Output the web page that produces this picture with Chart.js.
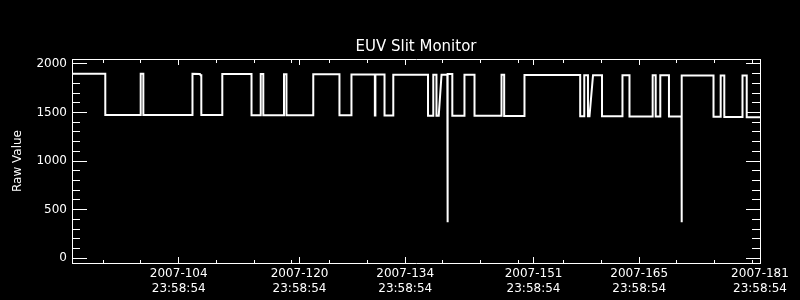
<!DOCTYPE html>
<html>
<head>
<meta charset="utf-8">
<title>EUV Slit Monitor</title>
<script src="https://cdn.jsdelivr.net/npm/chart.js@4.4.0/dist/chart.umd.min.js"></script>
<style>
  html, body { margin: 0; padding: 0; background: #000; }
  #chart { display: block; }
</style>
</head>
<body>
<canvas id="chart" width="800" height="300"></canvas>
<script>
// time axis is day-of-year 2007 (fractional), values are raw counts
const times = [
  90.86, 95.27, 95.27, 99.96, 99.96, 100.31, 100.31, 106.82, 106.82, 107.8, 107.9, 107.99,
  107.99, 110.77, 110.77, 114.64, 114.64, 115.86, 115.86, 116.2, 116.2, 118.94, 118.94, 119.27,
  119.27, 122.82, 122.82, 126.29, 126.29, 127.88, 127.88, 130.98, 130.98, 131.05, 131.05, 132.26,
  132.26, 133.42, 133.42, 138.02, 138.02, 138.72, 138.72, 139.14, 139.14, 139.44, 139.81, 140.58,
  140.58, 140.64, 140.64, 141.24, 141.24, 142.85, 142.85, 144.18, 144.18, 147.76, 147.76, 148.11,
  148.11, 150.8, 150.8, 158.18, 158.18, 158.72, 158.72, 159.21, 159.21, 159.41, 159.88, 161.07,
  161.07, 163.78, 163.78, 164.71, 164.71, 167.78, 167.78, 168.18, 168.18, 168.79, 168.79, 169.94,
  169.94, 171.6, 171.6, 171.64, 171.64, 175.84, 175.84, 176.79, 176.79, 177.27, 177.27, 179.68,
  179.68, 180.24, 180.24, 182.0
];
const values = [
  1898, 1898, 1474, 1474, 1898, 1898, 1474, 1474, 1897, 1896, 1882, 1882,
  1473, 1473, 1895, 1895, 1472, 1472, 1895, 1895, 1472, 1472, 1894, 1894,
  1471, 1471, 1893, 1893, 1470, 1470, 1891, 1891, 1469, 1469, 1890, 1890,
  1468, 1468, 1889, 1889, 1467, 1467, 1888, 1888, 1466, 1466, 1889, 1889,
  370, 370, 1896, 1896, 1466, 1466, 1887, 1887, 1465, 1465, 1887, 1887,
  1463, 1463, 1885, 1885, 1461, 1461, 1884, 1884, 1460, 1460, 1884, 1884,
  1460, 1460, 1883, 1883, 1459, 1459, 1882, 1882, 1458, 1458, 1882, 1882,
  1457, 1457, 370, 370, 1881, 1881, 1455, 1455, 1880, 1880, 1453, 1453,
  1879, 1879, 1451, 1451
];

const xMajorTicks = [104.999, 120.999, 134.999, 151.999, 165.999, 181.999];
const xMajorLabels = [
  ['2007-104', '23:58:54'],
  ['2007-120', '23:58:54'],
  ['2007-134', '23:58:54'],
  ['2007-151', '23:58:54'],
  ['2007-165', '23:58:54'],
  ['2007-181', '23:58:54']
];
const xMinorTicks = [95, 100, 105, 110, 115, 120, 125, 130, 135, 140, 145, 150, 156, 161, 166, 171, 176, 181];
const yMajorTicks = [0, 500, 1000, 1500, 2000];
const yMinorTicks = [100, 200, 300, 400, 600, 700, 800, 900, 1100, 1200, 1300, 1400, 1600, 1700, 1800, 1900];

const points = times.map((t, i) => ({ x: t, y: values[i] }));

// plot box is 72..760 x 59..263
const PLOT_W = 688;
const PLOT_H = 204;

Chart.defaults.color = '#ffffff';
Chart.defaults.font.family = 'DejaVu Sans';
Chart.defaults.font.size = 12;

// IDL style inward ticks: a dashed grid line that only shows at both ends
function endDash(len, span) {
  return [len, span - 2 * len, len];
}

function setTicks(list) {
  return (scale) => {
    scale.ticks = list.slice().sort((a, b) => a - b).map(v => ({ value: v }));
  };
}

new Chart(document.getElementById('chart'), {
  type: 'line',
  data: {
    datasets: [{
      data: points,
      borderColor: '#ffffff',
      borderWidth: 2,
      pointRadius: 0,
      tension: 0,
      fill: false
    }]
  },
  options: {
    responsive: false,
    animation: false,
    layout: { padding: 0 },
    plugins: {
      legend: { display: false },
      tooltip: { enabled: false }
    },
    scales: {
      x: {
        type: 'linear',
        position: 'bottom',
        min: 90.86,
        max: 181.999,
        afterBuildTicks: setTicks(xMajorTicks),
        afterFit: (scale) => { scale.height = 37; },
        ticks: {
          autoSkip: false,
          maxRotation: 0,
          minRotation: 0,
          padding: 4,
          font: { size: 12, lineHeight: 1.225 },
          callback: (value) => {
            const i = xMajorTicks.indexOf(value);
            return i >= 0 ? xMajorLabels[i] : '';
          }
        },
        grid: {
          drawOnChartArea: true,
          drawTicks: false,
          color: '#ffffff',
          lineWidth: 1
        },
        border: { display: true, color: '#ffffff', width: 1, dash: endDash(6, PLOT_H) }
      },
      x2: {
        type: 'linear',
        position: 'top',
        min: 90.86,
        max: 181.999,
        afterBuildTicks: setTicks(xMinorTicks),
        afterFit: (scale) => { scale.height = 59; },
        ticks: { display: false },
        grid: {
          drawOnChartArea: true,
          drawTicks: false,
          color: '#ffffff',
          lineWidth: 1
        },
        border: { display: true, color: '#ffffff', width: 1, dash: endDash(3, PLOT_H - 1) },
        title: {
          display: true,
          text: 'EUV Slit Monitor',
          color: '#ffffff',
          font: { size: 15 },
          padding: { top: 38, bottom: 0 }
        }
      },
      y: {
        type: 'linear',
        position: 'left',
        min: -50,
        max: 2050,
        afterBuildTicks: setTicks(yMajorTicks),
        afterFit: (scale) => { scale.width = 72; },
        ticks: {
          autoSkip: false,
          padding: 5,
          callback: (value) => String(value)
        },
        grid: {
          drawOnChartArea: true,
          drawTicks: false,
          color: '#ffffff',
          lineWidth: 1
        },
        border: { display: true, color: '#ffffff', width: 1, dash: endDash(14, PLOT_W - 1) },
        title: {
          display: true,
          text: 'Raw Value',
          color: '#ffffff',
          font: { size: 12 },
          padding: { top: 11, bottom: 0 }
        }
      },
      y2: {
        type: 'linear',
        position: 'right',
        min: -50,
        max: 2050,
        afterBuildTicks: setTicks(yMinorTicks),
        afterFit: (scale) => { scale.width = 40; },
        ticks: { display: false },
        grid: {
          drawOnChartArea: true,
          drawTicks: false,
          color: '#ffffff',
          lineWidth: 1
        },
        border: { display: true, color: '#ffffff', width: 1, dash: endDash(8, PLOT_W) }
      }
    }
  }
});
</script>
</body>
</html>
